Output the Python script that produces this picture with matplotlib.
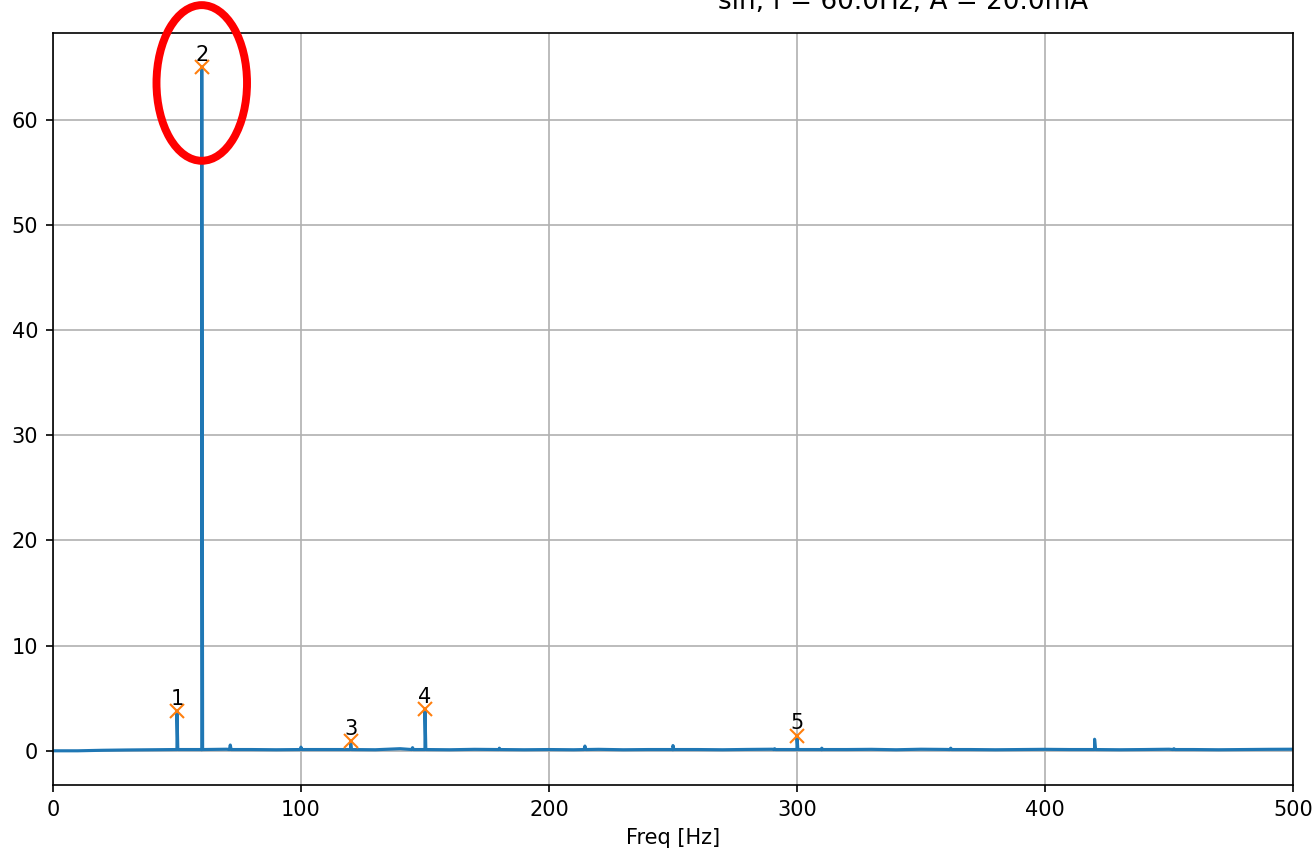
import numpy as np
import matplotlib.pyplot as plt
from matplotlib.patches import Ellipse

# noise floor of the spectrum, one value every 10 Hz (0..500 Hz)
floor_freq = list(range(0, 510, 10))
floor_amp = [0.0, 0.0, 0.05, 0.08, 0.1, 0.12, 0.1, 0.15, 0.12, 0.1,
             0.18, 0.12, 0.15, 0.1, 0.2, 0.12, 0.1, 0.14, 0.12, 0.1,
             0.12, 0.1, 0.14, 0.1, 0.12, 0.1, 0.12, 0.1, 0.13, 0.15,
             0.12, 0.1, 0.12, 0.14, 0.1, 0.15, 0.13, 0.12, 0.1, 0.12,
             0.14, 0.12, 0.12, 0.1, 0.12, 0.15, 0.12, 0.1, 0.12, 0.14,
             0.15]

# small spurious lines (Hz, amplitude)
spur_freq = [71.5, 100.0, 145.0, 180.0, 214.5, 250.0, 291.0, 310.0, 362.0, 420.0, 452.0]
spur_amp = [0.55, 0.35, 0.3, 0.25, 0.45, 0.5, 0.2, 0.25, 0.25, 1.1, 0.2]

# detected peaks
peak_freq = [50.0, 60.0, 120.0, 150.0, 300.0]
peak_amp = [3.8, 65.0, 0.95, 4.0, 1.45]
peak_labels = ['1', '2', '3', '4', '5']

title = 'sin, f = 60.0Hz, A = 20.0mA'


def spectrum():
	pts = list(zip(floor_freq, floor_amp))
	for f, a in zip(spur_freq + peak_freq, spur_amp + peak_amp):
		pts += [(f - 0.35, 0.12), (f, a), (f + 0.35, 0.12)]
	pts.sort()
	return np.array([p[0] for p in pts]), np.array([p[1] for p in pts])


def main():
	freq, amp = spectrum()

	fig = plt.figure(figsize=(8.76, 5.7), dpi=150)
	ax = fig.add_axes([0.0403, 0.0819, 0.9437, 0.8795])

	ax.plot(freq, amp, color='C0', lw=1.5)
	ax.plot(peak_freq, peak_amp, 'x', color='C1', ms=7)
	for f, a, s in zip(peak_freq, peak_amp, peak_labels):
		ax.text(f, a + 0.2, s, ha='center', va='bottom', fontsize=10)

	ax.set_xlim(0, 500)
	ax.set_xlabel('Freq [Hz]')
	ax.grid(True)

	# highlight the main peak
	ax.add_patch(Ellipse((60, 63.5), 36.5, 14.8, fill=False, edgecolor='red',
	                     lw=3.8, clip_on=False, zorder=5))

	fig.text(903/1314, 1 - 9/855, title, ha='center', va='baseline', fontsize=12.6)

	fig.savefig('out.png', dpi=150)


if __name__ == '__main__':
	main()
